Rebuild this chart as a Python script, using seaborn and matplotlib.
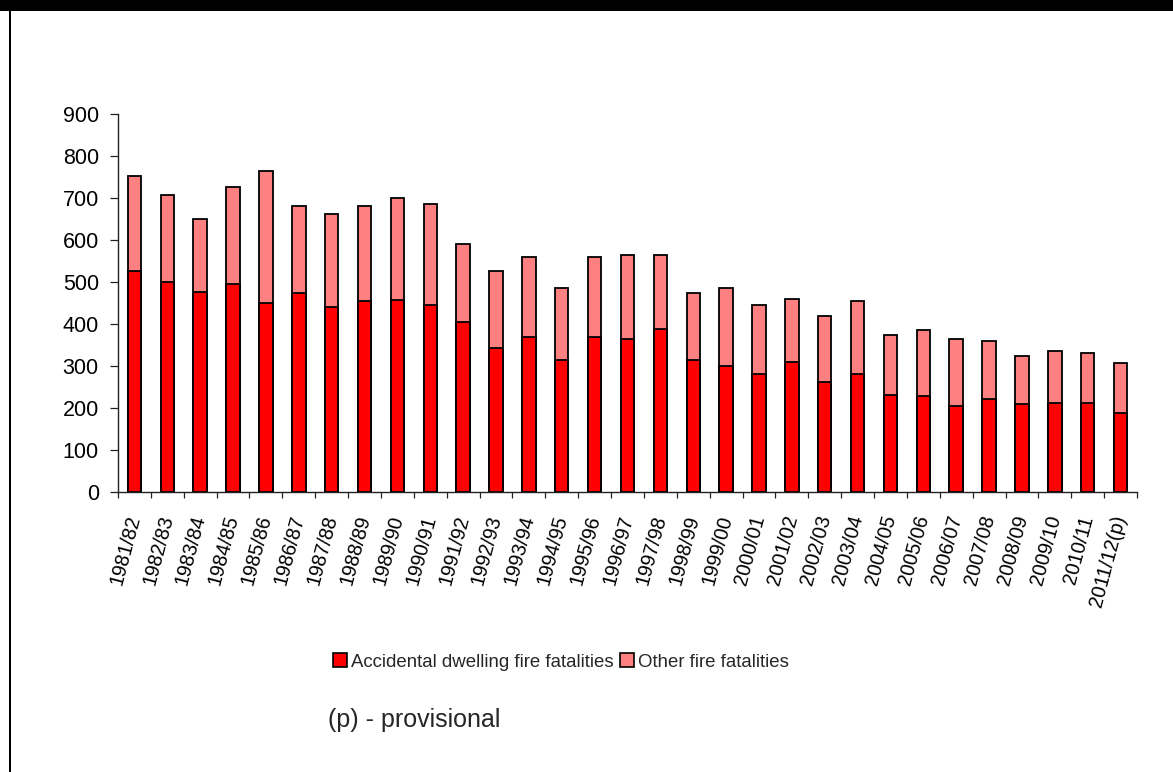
import numpy as np
import pandas as pd
import matplotlib
matplotlib.use("Agg")
import matplotlib.pyplot as plt
from matplotlib.patches import Patch, Rectangle
import seaborn as sns

# Fire fatalities by financial year
years = ["1981/82", "1982/83", "1983/84", "1984/85", "1985/86", "1986/87",
         "1987/88", "1988/89", "1989/90", "1990/91", "1991/92", "1992/93",
         "1993/94", "1994/95", "1995/96", "1996/97", "1997/98", "1998/99",
         "1999/00", "2000/01", "2001/02", "2002/03", "2003/04", "2004/05",
         "2005/06", "2006/07", "2007/08", "2008/09", "2009/10", "2010/11",
         "2011/12(p)"]
accidental_dwelling = [527, 500, 476, 495, 450, 473, 441, 454, 458, 446,
                       404, 342, 368, 314, 368, 364, 387, 314, 300, 281,
                       309, 263, 281, 232, 228, 205, 222, 209, 213, 213,
                       187]
other_fires = [226, 208, 174, 232, 314, 208, 222, 227, 241, 240,
               187, 185, 192, 172, 192, 200, 177, 159, 186, 165,
               151, 156, 173, 141, 158, 159, 137, 114, 123, 118,
               121]
series_names = ["Accidental dwelling fire fatalities", "Other fire fatalities"]
yticks = [0, 100, 200, 300, 400, 500, 600, 700, 800, 900]

df = pd.DataFrame({"year": years,
                   "accidental": accidental_dwelling,
                   "other": other_fires})
df["total"] = df["accidental"] + df["other"]

sns.set_theme(style="ticks")
plt.rcParams["font.family"] = ["Liberation Sans", "DejaVu Sans"]

RED = "#FF0000"
PINK = "#FF8080"

fig = plt.figure(figsize=(11.73, 7.72), dpi=100)
W, H = 1173, 772
ax = fig.add_axes([118 / W, 1 - 492 / H, (1137 - 118) / W, (492 - 114) / H])

bar_kw = dict(edgecolor="black", linewidth=1.3, width=0.41,
              saturation=1, errorbar=None, ax=ax)
# stacked: draw the full height in pink, then the lower segment in red
sns.barplot(data=df, x="year", y="total", color=PINK, **bar_kw)
sns.barplot(data=df, x="year", y="accidental", color=RED, **bar_kw)

ax.set_xlim(-0.5, len(years) - 0.5)
ax.set_ylim(0, 900)
ax.set_yticks(yticks)
ax.set_xlabel("")
ax.set_ylabel("")

sns.despine(ax=ax)
for s in ("left", "bottom"):
    ax.spines[s].set_color("#222222")
    ax.spines[s].set_linewidth(1.0)

ax.tick_params(axis="y", direction="out", length=5.8, width=0.9,
               color="#222222", pad=8.0, labelsize=15.5, labelcolor="black")
# category boundaries carry the tick marks; labels sit at bar centres
ax.set_xticks(np.arange(-0.5, len(years), 1.0), minor=True)
ax.tick_params(axis="x", which="minor", direction="out", length=4.5,
               width=0.9, color="#222222")
ax.tick_params(axis="x", which="major", length=0, pad=17)
ax.set_xticks(range(len(years)))
ax.set_xticklabels(years, rotation=75, ha="right", va="center",
                   rotation_mode="anchor", fontsize=14.2, color="black")

handles = [Patch(facecolor=RED, edgecolor="black", linewidth=1.2),
           Patch(facecolor=PINK, edgecolor="black", linewidth=1.2)]
fig.legend(handles, series_names, loc="center", ncol=2,
           bbox_to_anchor=(561 / W, 1 - 662 / H), frameon=False,
           fontsize=13.4, handlelength=0.75, handleheight=0.75,
           handletextpad=0.25, columnspacing=0.3)

fig.text(328 / W, 1 - 720 / H, "(p) - provisional", ha="left",
         va="center", fontsize=18)

# outer frame: heavy top band and thin left rule
fig.add_artist(Rectangle((0, 1 - 11 / H), 1, 11 / H, transform=fig.transFigure,
                         facecolor="black", edgecolor="none"))
fig.add_artist(Rectangle((9 / W, 0), 2 / W, 1, transform=fig.transFigure,
                         facecolor="black", edgecolor="none"))

fig.savefig("out.png", dpi=100, facecolor="white")
